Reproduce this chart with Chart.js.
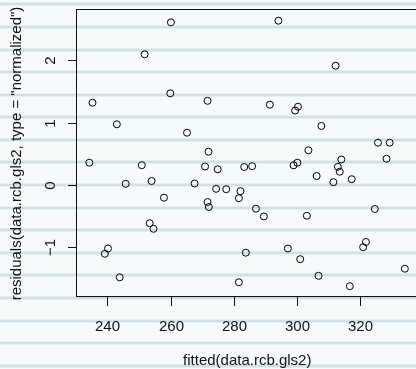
<!DOCTYPE html>
<html lang="en">
<head>
  <meta charset="UTF-8">
  <title>Residuals vs fitted</title>
  <script src="https://cdn.jsdelivr.net/npm/chart.js"></script>
  <style>
    html, body { margin: 0; padding: 0; overflow: hidden; background: #f6fafb; }
    canvas { display: block; }
  </style>
</head>
<body>
  <canvas id="resid" width="430" height="369" style="width:430px;height:369px"></canvas>

  <script>
    // fitted values and normalized residuals
    const fitted = [
      234.3, 235.3, 239.2, 240.2, 243.0, 243.9, 245.8, 250.9, 251.8, 253.4,
      254.0, 254.6, 257.9, 259.9, 260.1, 265.2, 267.6, 270.9, 271.7, 272.0,
      271.7, 272.1, 274.9, 274.4, 277.6, 281.6, 282.1, 281.6, 283.3, 283.8,
      285.8, 287.0, 289.5, 291.4, 294.1, 297.1, 298.9, 300.1, 299.4, 300.3,
      301.0, 303.1, 303.6, 306.2, 306.8, 307.7, 311.5, 312.2, 312.9, 313.5,
      314.0, 317.3, 316.7, 320.9, 321.8, 324.6, 325.6, 328.3, 329.3, 334.1
    ];
    const resid = [
      0.358, 1.320, -1.104, -1.019, 0.974, -1.481, 0.019, 0.318, 2.097, -0.613,
      0.064, -0.703, -0.204, 1.471, 2.610, 0.839, 0.024, 0.297, 1.351, 0.534,
      -0.273, -0.353, 0.252, -0.061, -0.067, -0.212, -0.099, -1.561, 0.289, -1.086,
      0.302, -0.380, -0.505, 1.288, 2.636, -1.019, 0.316, 0.358, 1.195, 1.256,
      -1.190, -0.493, 0.557, 0.144, -1.457, 0.947, 0.045, 1.914, 0.292, 0.213,
      0.409, 0.093, -1.624, -0.998, -0.914, -0.385, 0.679, 0.422, 0.679, -1.343
    ];
    const xTicks = [240, 260, 280, 300, 320];
    const yTicks = [-1, 0, 1, 2];
    const xTitle = "fitted(data.rcb.gls2)";
    const yTitle = 'residuals(data.rcb.gls2, type = "normalized")';

    const font = '15px "Liberation Sans", Arial, sans-serif';

    // R-style frame, ticks, labels and the ruled background
    const rFrame = {
      id: "rFrame",
      beforeDraw(chart) {
        const ctx = chart.ctx;
        const w = chart.width, h = chart.height;
        ctx.save();
        ctx.fillStyle = "#f6fafb";
        ctx.fillRect(0, 0, w, h);
        for (let y = 4.3; y < h + 5; y += 22.6) {
          const yy = Math.round(y);
          ctx.fillStyle = "#e4eff2";
          ctx.fillRect(0, yy - 2, w, 1);
          ctx.fillRect(0, yy + 1, w, 1);
          ctx.fillStyle = "#cfe1e6";
          ctx.fillRect(0, yy - 1, w, 2);
        }
        ctx.restore();
      },
      afterDraw(chart) {
        const ctx = chart.ctx;
        const a = chart.chartArea;
        const xs = chart.scales.x, ys = chart.scales.y;
        ctx.save();
        ctx.strokeStyle = "#111";
        ctx.lineWidth = 1;
        ctx.strokeRect(Math.round(a.left) - 0.5, Math.round(a.top) - 0.5,
          Math.round(a.right - a.left), Math.round(a.bottom - a.top));

        ctx.fillStyle = "#111";
        ctx.font = font;

        ctx.textAlign = "center";
        ctx.textBaseline = "alphabetic";
        xTicks.forEach(v => {
          const px = Math.round(xs.getPixelForValue(v)) + 0.5;
          ctx.beginPath();
          ctx.moveTo(px, a.bottom);
          ctx.lineTo(px, a.bottom + 9);
          ctx.stroke();
          ctx.fillText(String(v), px, 331);
        });

        yTicks.forEach(v => {
          const py = Math.round(ys.getPixelForValue(v)) + 0.5;
          ctx.beginPath();
          ctx.moveTo(a.left - 9, py);
          ctx.lineTo(a.left, py);
          ctx.stroke();
          ctx.save();
          ctx.translate(55, py);
          ctx.rotate(-Math.PI / 2);
          ctx.fillText(v < 0 ? "\u2212" + Math.abs(v) : String(v), 0, 0);
          ctx.restore();
        });

        ctx.fillText(xTitle, (a.left + a.right) / 2, 365);
        ctx.save();
        ctx.translate(21, (a.top + a.bottom) / 2);
        ctx.rotate(-Math.PI / 2);
        ctx.fillText(yTitle, 0, 0);
        ctx.restore();
        ctx.restore();
      }
    };

    new Chart(document.getElementById("resid"), {
      type: "scatter",
      data: {
        datasets: [{
          data: fitted.map((x, i) => ({ x: x, y: resid[i] })),
          pointStyle: "circle",
          pointRadius: 3.5,
          pointHoverRadius: 3.5,
          pointBorderWidth: 1,
          pointBorderColor: "#000",
          pointBackgroundColor: "rgba(0,0,0,0)"
        }]
      },
      options: {
        responsive: false,
        animation: false,
        events: [],
        layout: { padding: { left: 77, top: 10, right: 12.5, bottom: 72 } },
        scales: {
          x: { type: "linear", min: 230.4, max: 338.1, display: false },
          y: { type: "linear", min: -1.797, max: 2.808, display: false }
        },
        plugins: {
          legend: { display: false },
          tooltip: { enabled: false }
        }
      },
      plugins: [rFrame]
    });
  </script>
</body>
</html>
